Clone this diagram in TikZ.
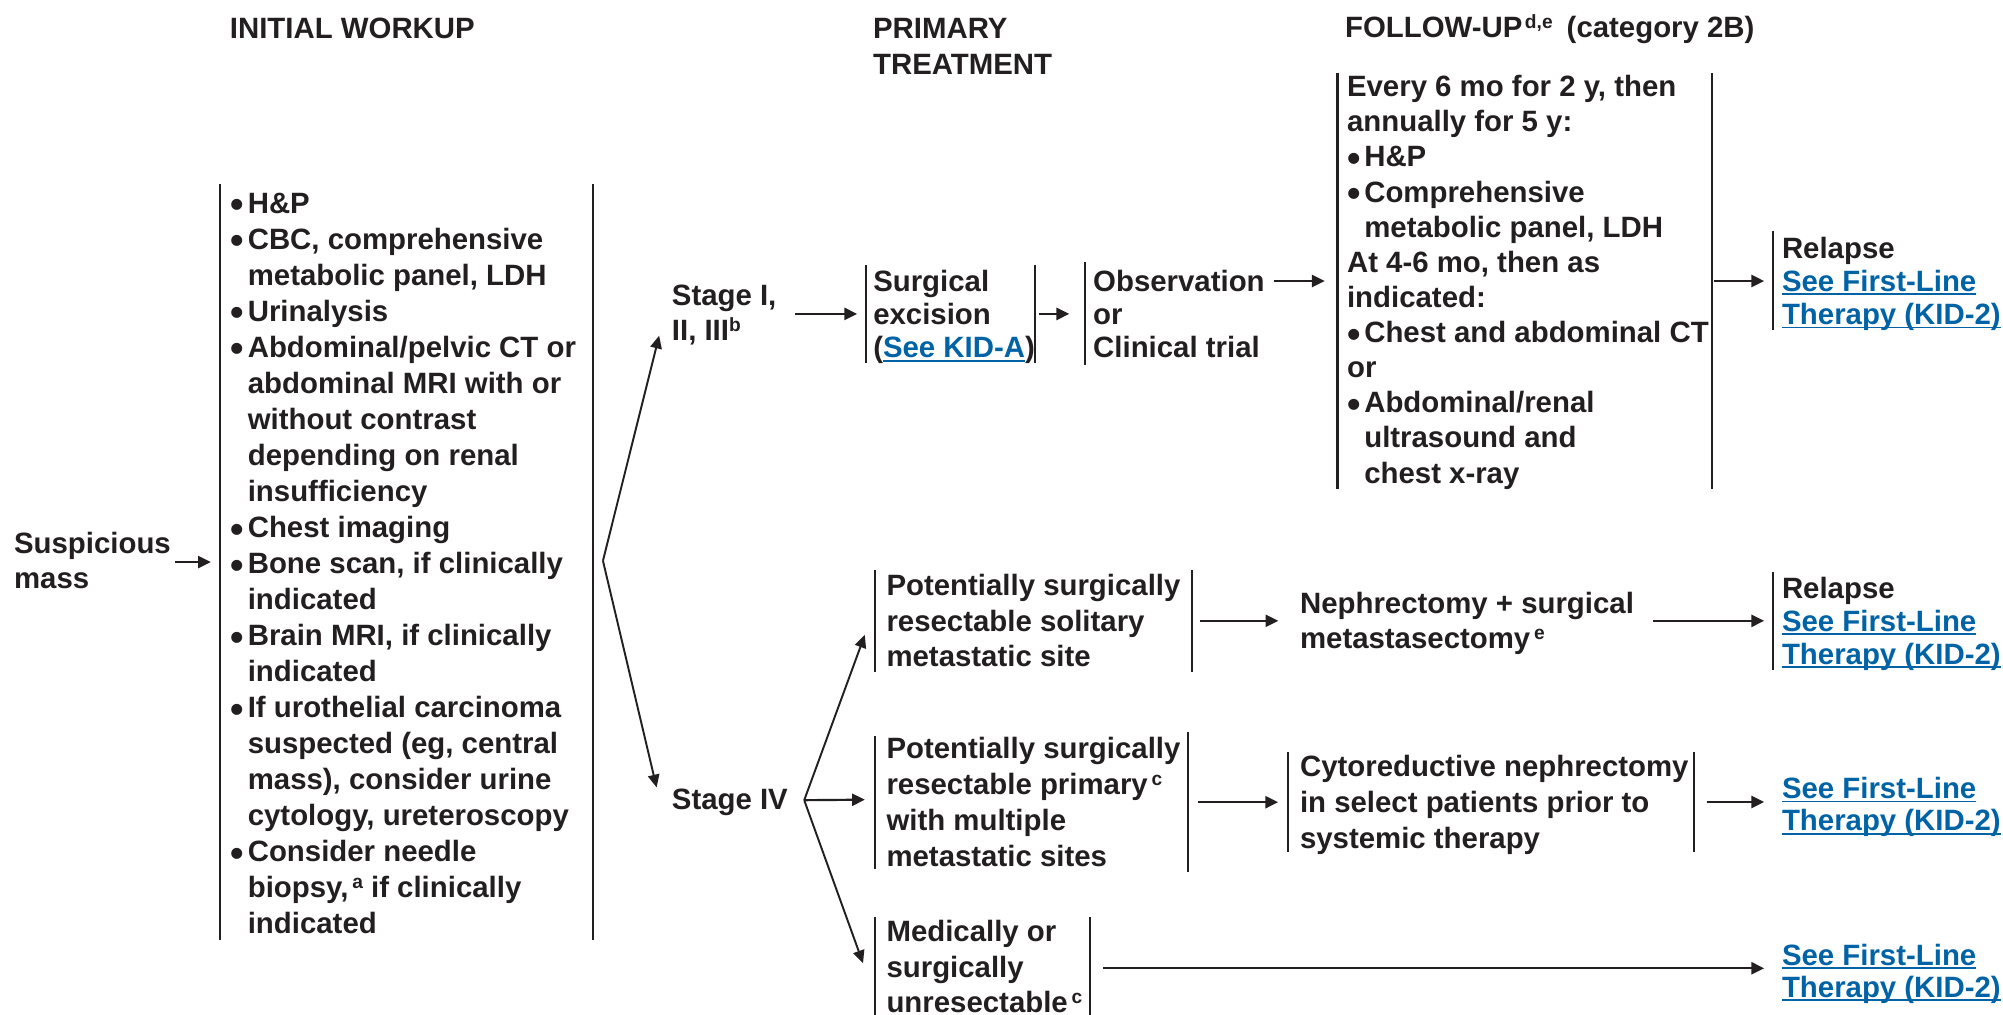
\documentclass[tikz,border=0pt]{standalone}
\usepackage{fontspec}
\setmainfont{Liberation Sans}
\usetikzlibrary{arrows.meta,calc}
\definecolor{ink}{HTML}{231F20}
\definecolor{linkblue}{RGB}{0,99,166}
\newcommand{\fsz}[1]{\fontsize{23}{#1}\selectfont\bfseries}
\newcommand{\sups}[1]{\raisebox{7pt}{\fontsize{15}{15}\selectfont #1}}
\newcommand{\bl}{\makebox[13.5pt][l]{\raisebox{-3.5pt}[0pt][0pt]{\fontsize{30}{30}\selectfont\textbullet}}}
\newcommand{\ind}{\hspace*{13.5pt}}
\newcommand{\lnk}[1]{{\color{linkblue}\setbox0=\hbox{#1}\rlap{\rule[-3pt]{\wd0}{1.3pt}}\box0}}
\begin{document}
\begin{tikzpicture}[x=1pt,y=-1pt,
  txt/.style={inner sep=0pt, outer sep=0pt, anchor=base west, align=left, text=ink},
  bk/.style={inner sep=0pt, outer sep=0pt, draw=none, rectangle},
  bar/.style={draw=ink, line width=1.6pt},
  arr/.style={draw=ink, line width=1.7pt, -{Triangle[length=10pt,width=9.5pt]}},
  brarr/.style={draw=ink, line width=1.5pt, -{Triangle[length=10pt,width=9pt]}}]
\useasboundingbox (0,0) rectangle (1568,794);
\clip (0,0) rectangle (1568,794);

% headers (positions give the baseline of the last line)
\node[txt, font=\fsz{28}] (hdr1) at (180,30) {INITIAL WORKUP};
\node[txt, font=\fsz{28}] (hdr2) at (683.5,58) {PRIMARY\\TREATMENT};
\node[txt, font=\fsz{28}] (hdr3) at (1053,29) {FOLLOW-UP\hspace{2pt}\sups{d,e}\hspace{11pt}(category 2B)};

% bracket boxes (invisible frames)
\node[bk, minimum width=292pt, minimum height=592pt] (wb) at (318,440) {};
\node[bk, minimum width=132pt, minimum height=76.5pt] (sb) at (744,245.75) {};
\node[bk, minimum width=141pt, minimum height=81pt] (ob) at (919.5,245.5) {};
\node[bk, minimum width=293pt, minimum height=326pt] (fu) at (1193.5,220) {};
\node[bk, minimum width=177pt, minimum height=77pt] (r1) at (1476.5,219.5) {};
\node[bk, minimum width=248pt, minimum height=80pt] (A) at (809,486) {};
\node[bk, minimum width=177pt, minimum height=77pt] (r2) at (1476.5,486) {};
\node[bk, minimum width=245pt, minimum height=110pt] (B) at (807.5,628) {};
\node[bk, minimum width=317.5pt, minimum height=78.4pt] (cy) at (1167.25,627.8) {};
\node[bk, minimum width=168pt, minimum height=92pt] (C) at (769,764) {};

% texts
\node[txt, font=\fsz{28}] (susp) at (11,461) {Suspicious\\mass};
\node[txt, font=\fsz{28.2}] (wt) at (180.5,731) {\bl H\&P\\
\bl CBC, comprehensive\\
\ind metabolic panel, LDH\\
\bl Urinalysis\\
\bl Abdominal/pelvic CT or\\
\ind abdominal MRI with or\\
\ind without contrast\\
\ind depending on renal\\
\ind insufficiency\\
\bl Chest imaging\\
\bl Bone scan, if clinically\\
\ind indicated\\
\bl Brain MRI, if clinically\\
\ind indicated\\
\bl If urothelial carcinoma\\
\ind suspected (eg, central\\
\ind mass), consider urine\\
\ind cytology, ureteroscopy\\
\bl Consider needle\\
\ind biopsy,\hspace{3pt}\sups{a} if clinically\\
\ind indicated};
\node[txt, font=\fsz{27}] (s1) at (526,266.5) {Stage I,\\II, III\sups{b}};
\node[txt, font=\fsz{25.8}] (sbt) at (683.6,280.1) {Surgical\\excision\\(\lnk{See KID-A})};
\node[txt, font=\fsz{25.8}] (obt) at (855.8,280.1) {Observation\\or\\Clinical trial};
\node[txt, font=\fsz{27.5}] (fut) at (1054.5,378.2) {Every 6 mo for 2 y, then\\
annually for 5 y:\\
\bl H\&P\\
\bl Comprehensive\\
\ind metabolic panel, LDH\\
At 4-6 mo, then as\\
indicated:\\
\bl Chest and abdominal CT\\
or\\
\bl Abdominal/renal\\
\ind ultrasound and\\
\ind chest x-ray};
\node[txt, font=\fsz{26}] (r1t) at (1395,254) {Relapse\\\lnk{See First-Line}\\\lnk{Therapy (KID-2)}};
\node[txt, font=\fsz{28}] (s4t) at (526,634) {Stage IV};
\node[txt, font=\fsz{27.8}] (At) at (694,522.1) {Potentially surgically\\resectable solitary\\metastatic site};
\node[txt, font=\fsz{27.5}] (nph) at (1017.7,507.5) {Nephrectomy + surgical\\metastasectomy\hspace{3pt}\sups{e}};
\node[txt, font=\fsz{25.8}] (r2t) at (1395,520) {Relapse\\\lnk{See First-Line}\\\lnk{Therapy (KID-2)}};
\node[txt, font=\fsz{28.2}] (Bt) at (694,678.6) {Potentially surgically\\resectable primary\hspace{3pt}\sups{c}\\with multiple\\metastatic sites};
\node[txt, font=\fsz{28}] (cyt) at (1017.7,664) {Cytoreductive nephrectomy\\in select patients prior to\\systemic therapy};
\node[txt, font=\fsz{25.5}] (s3t) at (1395,650.5) {\lnk{See First-Line}\\\lnk{Therapy (KID-2)}};
\node[txt, font=\fsz{27.8}] (Ct) at (694,792.9) {Medically or\\surgically\\unresectable\hspace{3pt}\sups{c}};
\node[txt, font=\fsz{25}] (s4l) at (1395,780.5) {\lnk{See First-Line}\\\lnk{Therapy (KID-2)}};

% bars
\draw[bar] (wb.north west) -- (wb.south west) (wb.north east) -- (wb.south east);
\draw[bar] (sb.north west) -- (sb.south west) (sb.north east) -- (sb.south east);
\draw[bar] (ob.north west) -- (ob.south west);
\draw[bar] (fu.north west) -- (fu.south west) (fu.north east) -- (fu.south east);
\draw[bar] (r1.north west) -- (r1.south west);
\draw[bar] (A.north west) -- (A.south west) (A.north east) -- (A.south east);
\draw[bar] (r2.north west) -- (r2.south west);
\draw[bar] ([yshift=-3pt]B.north west) -- ([yshift=3pt]B.south west) (B.north east) -- (B.south east);
\draw[bar] (cy.north west) -- (cy.south west) (cy.north east) -- (cy.south east);
\draw[bar] (C.north west) -- (C.south west) (C.north east) -- (C.south east);

% connectors
\draw[arr, shorten <=3.3pt, shorten >=7pt] (susp.east |- wb.west) -- (wb.west);
\coordinate (br1) at ($(wb.east)+(8,-1)$);
\draw[brarr] (br1) -- ($(s1.west)+(-10,16)$);
\draw[brarr] (br1) -- ($(s4t.west)+(-12,-12)$);
\draw[arr, shorten <=14.8pt, shorten >=7pt] (s1.east |- sb.west) -- (sb.west);
\draw[arr, shorten <=3pt, shorten >=12pt] (sb.east) -- (ob.west |- sb.east);
\draw[arr, shorten <=7pt, shorten >=10pt] (obt.east |- fu.west) -- (fu.west);
\draw[arr, shorten <=2pt, shorten >=7pt] (fu.east) -- (r1.west |- fu.east);
\coordinate (br2) at ($(s4t.east)+(12.8,-2)$);
\draw[brarr] (br2) -- ($(A.west)+(-8,11)$);
\draw[arr] (br2) -- ($(B.west)+(-8,-2)$);
\draw[brarr] (br2) -- ($(C.west)+(-9.4,-10)$);
\draw[arr, shorten <=6.6pt, shorten >=17pt] (A.east) -- (nph.west |- A.east);
\draw[arr, shorten <=15pt, shorten >=7pt] (nph.east |- r2.west) -- (r2.west);
\draw[arr, shorten <=8pt, shorten >=8pt] (B.east) -- (cy.west |- B.east);
\draw[arr, shorten <=10pt, shorten >=14pt] (cy.east) -- (s3t.west |- cy.east);
\coordinate (c4) at ($(C.east)+(10.7,-6)$);
\draw[arr, shorten >=14pt] (c4) -- (c4 -| s4l.west);
\end{tikzpicture}
\end{document}
